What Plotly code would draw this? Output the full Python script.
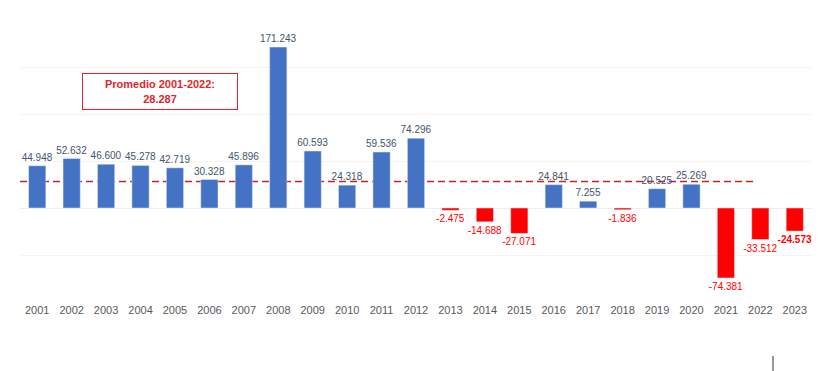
import plotly.graph_objects as go

years = [str(y) for y in range(2001, 2024)]
values = [44948, 52632, 46600, 45278, 42719, 30328, 45896, 171243, 60593, 24318,
          59536, 74296, -2475, -14688, -27071, 24841, 7255, -1836, 20525, 25269,
          -74381, -33512, -24573]
average = 28287
avg_label = "<b>Promedio 2001-2022:<br>28.287</b>"

def fmt(v):
    s = f"{abs(v):,}".replace(",", ".")
    return ("-" if v < 0 else "") + s

colors = ["#4472C4" if v >= 0 else "#FF0000" for v in values]
texts = [fmt(v) for v in values]
texts[-1] = "<b>" + texts[-1] + "</b>"
text_colors = ["#44546A" if v >= 0 else "#FF0000" for v in values]

fig = go.Figure()
fig.add_trace(go.Bar(
    x=years, y=values, marker_color=colors, text=texts,
    textposition="outside", constraintext="none",
    textfont=dict(size=10, color=text_colors, family="Liberation Sans"),
    cliponaxis=False, width=0.5, hoverinfo="skip"
))

fig.add_shape(type="line", xref="x", yref="y", x0=-0.5, x1=20.9, y0=average, y1=average,
              layer="below", line=dict(color="#C8202A", width=1.5, dash="7px,4px"))

fig.add_annotation(x=3.57, y=124500, xref="x", yref="y", text=avg_label, showarrow=False,
                   font=dict(size=11, color="#E0262B", family="Liberation Sans"),
                   bordercolor="#E0262B", borderwidth=1, bgcolor="white",
                   width=152, height=33, align="center")

L, T, PW, PH = 12, 22, 792, 272
fig.add_shape(type="line", xref="paper", yref="paper", x0=(765 - L) / PW, x1=(765 - L) / PW,
              y0=(T + PH - 348) / PH, y1=(T + PH - 363) / PH, line=dict(color="#333333", width=1))

fig.update_layout(
    width=828, height=371,
    margin=dict(l=L, r=828 - L - PW, t=T, b=371 - T - PH),
    plot_bgcolor="white", paper_bgcolor="white",
    showlegend=False,
    font=dict(family="Liberation Sans"),
)
fig.update_xaxes(type="category", tickfont=dict(size=11, color="#595959", family="Liberation Sans Narrow, Liberation Sans"),
                 showline=False, showgrid=False, ticks="", range=[-0.5, 22.5])
fig.update_yaxes(range=[-100000, 189400], dtick=50000, showticklabels=False,
                 gridcolor="#F4F4F4", zeroline=True, zerolinecolor="#EDEDED", zerolinewidth=1)

fig.write_html("out.html")
